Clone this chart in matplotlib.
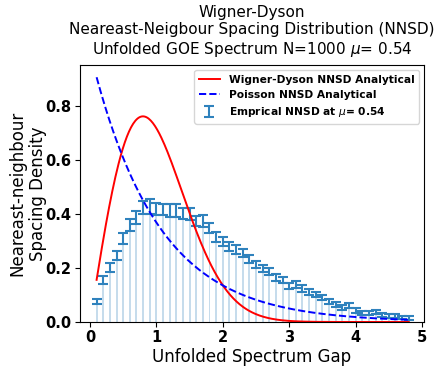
import numpy as np
import matplotlib
matplotlib.use("Agg")
import matplotlib.pyplot as plt

gap_centres = [round(0.1 * k, 1) for k in range(1, 49)]
emp_density = [0.075, 0.155, 0.202, 0.246, 0.309, 0.358, 0.386, 0.423, 0.426, 0.417,
               0.416, 0.412, 0.413, 0.400, 0.399, 0.373, 0.373, 0.348, 0.314, 0.298,
               0.279, 0.267, 0.255, 0.232, 0.212, 0.199, 0.186, 0.166, 0.156, 0.133,
               0.139, 0.124, 0.111, 0.102, 0.091, 0.075, 0.066, 0.054, 0.062, 0.042,
               0.033, 0.033, 0.036, 0.027, 0.022, 0.022, 0.018, 0.015]
emp_err = [0.009, 0.014, 0.017, 0.017, 0.021, 0.021, 0.023, 0.025, 0.027, 0.023,
           0.022, 0.023, 0.025, 0.020, 0.021, 0.018, 0.021, 0.018, 0.018, 0.017,
           0.016, 0.016, 0.015, 0.014, 0.014, 0.013, 0.013, 0.013, 0.012, 0.012,
           0.012, 0.012, 0.011, 0.010, 0.010, 0.009, 0.009, 0.009, 0.009, 0.008,
           0.007, 0.007, 0.007, 0.007, 0.007, 0.006, 0.006, 0.006]

s = np.linspace(0.1, 4.8, 300)
wigner = np.pi / 2 * s * np.exp(-np.pi * s ** 2 / 4)
poisson = np.exp(-s)

fig = plt.figure(figsize=(4.48, 3.73), dpi=100)
ax = fig.add_axes([80 / 448, 1 - 322 / 373, 344 / 448, 257 / 373])

ax.bar(gap_centres, emp_density, width=0.03, color='#1f77b4', alpha=0.25)
ax.errorbar(gap_centres, emp_density, yerr=emp_err, fmt='none', ecolor='#2f82bd',
            elinewidth=1.5, capsize=3.5, capthick=1.5,
            label=r'Emprical NNSD at $\mu$= 0.54')
ax.plot(s, wigner, color='red', lw=1.4, label='Wigner-Dyson NNSD Analytical')
ax.plot(s, poisson, color='blue', ls='--', lw=1.4, label='Poisson NNSD Analytical')

ax.set_xlim(-0.15, 5.03)
ax.set_ylim(0, 0.95)
ax.set_xticks([0, 1, 2, 3, 4, 5])
ax.set_yticks([0.0, 0.2, 0.4, 0.6, 0.8])
ax.tick_params(axis='both', pad=2.5)
for lab in ax.get_xticklabels() + ax.get_yticklabels():
    lab.set_fontweight('bold')
    lab.set_fontsize(10.5)

ax.set_title('Wigner-Dyson\nNeareast-Neigbour Spacing Distribution (NNSD)\n'
             r'Unfolded GOE Spectrum N=1000 $\mu$= 0.54', fontsize=11,
             linespacing=1.2, pad=8)
ax.set_xlabel('Unfolded Spectrum Gap', fontsize=12, labelpad=2)
ax.set_ylabel('Neareast-neighbour\nSpacing Density', fontsize=12, labelpad=-1)

ax.legend(loc='upper right', prop={'weight': 'bold', 'size': 7.7})

fig.savefig('out.png', dpi=100)
